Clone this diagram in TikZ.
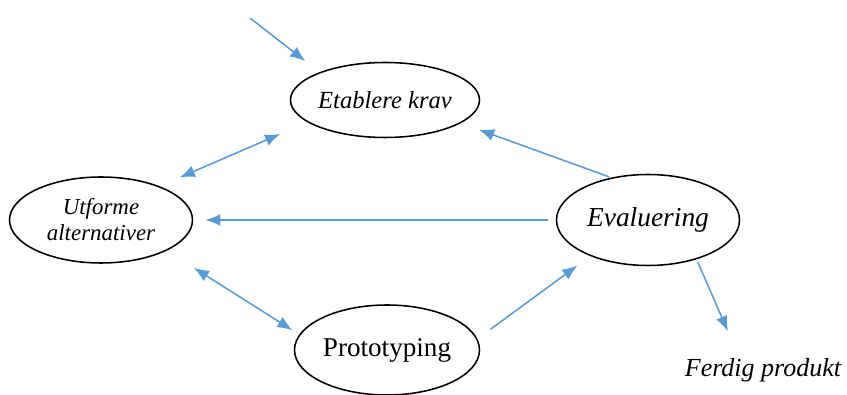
\documentclass[tikz,border=0pt]{standalone}
\usepackage{fontspec}
\setmainfont{Liberation Serif}
\usetikzlibrary{arrows.meta,shapes.geometric,positioning}
\definecolor{flowblue}{RGB}{91,155,213}

\begin{document}
\begin{tikzpicture}
\tikzstyle{phase} = [
	shape=ellipse,
	draw=black, %border of the phase
	line width=1.1pt,
	inner sep=0pt,
	align=center
];
\tikzstyle{flow} = [
	-{Latex[length=3.8mm,width=3mm]},
	line width=1.1pt,
	color=flowblue
];
\tikzstyle{twoway} = [
	{Latex[length=3.8mm,width=3mm]}-{Latex[length=3.8mm,width=3mm]}
];

\useasboundingbox (0,0) rectangle (21.175,9.875);

\node[phase, minimum width=4.625cm, minimum height=1.875cm,
	font=\fontsize{17.5}{20}\selectfont\itshape](Et) at (9.625,7.375) {Etablere krav};
\node[phase, minimum width=4.575cm, minimum height=2.15cm,
	font=\fontsize{16.3}{18.5}\selectfont\itshape](Ut) at (2.525,4.375) {Utforme\\alternativer};
\node[phase, minimum width=4.575cm, minimum height=2.275cm,
	font=\fontsize{19.5}{22}\selectfont\itshape](Ev) at (16.2,4.375) {Evaluering};
\node[phase, minimum width=4.625cm, minimum height=2.25cm,
	font=\fontsize{19.3}{22}\selectfont](Pr) at (9.675,1.125) {Prototyping};
\node[inner sep=2pt, font=\fontsize{18.5}{21}\selectfont\itshape](Fe) at (19.075,0.625) {Ferdig produkt};
\coordinate (In) at (6.25,9.425);

%into the cycle
\path[flow]
	(In) edge[shorten >=0.45cm] (Et.157)
;

%iterations
\path[flow]
	(Ut.30) edge[twoway, shorten <=0.55cm, shorten >=0.74cm] (Et.196)
	(Ut.-25) edge[twoway, shorten <=0.8cm, shorten >=0.2cm] (Pr.170)
	(Pr.7) edge[shorten <=0.4cm, shorten >=0.4cm] (Ev.212)
	(Ev.131) edge[shorten <=0.05cm, shorten >=0.48cm] (Et.-17.7)
	(Ev.180) edge[shorten <=0.2cm, shorten >=0.3cm] (Ut.0)
;

%out of the cycle
\path[flow]
	(Ev.-39) edge[shorten <=0.08cm, shorten >=0.65cm] (Fe.149)
;
\end{tikzpicture}
\end{document}
